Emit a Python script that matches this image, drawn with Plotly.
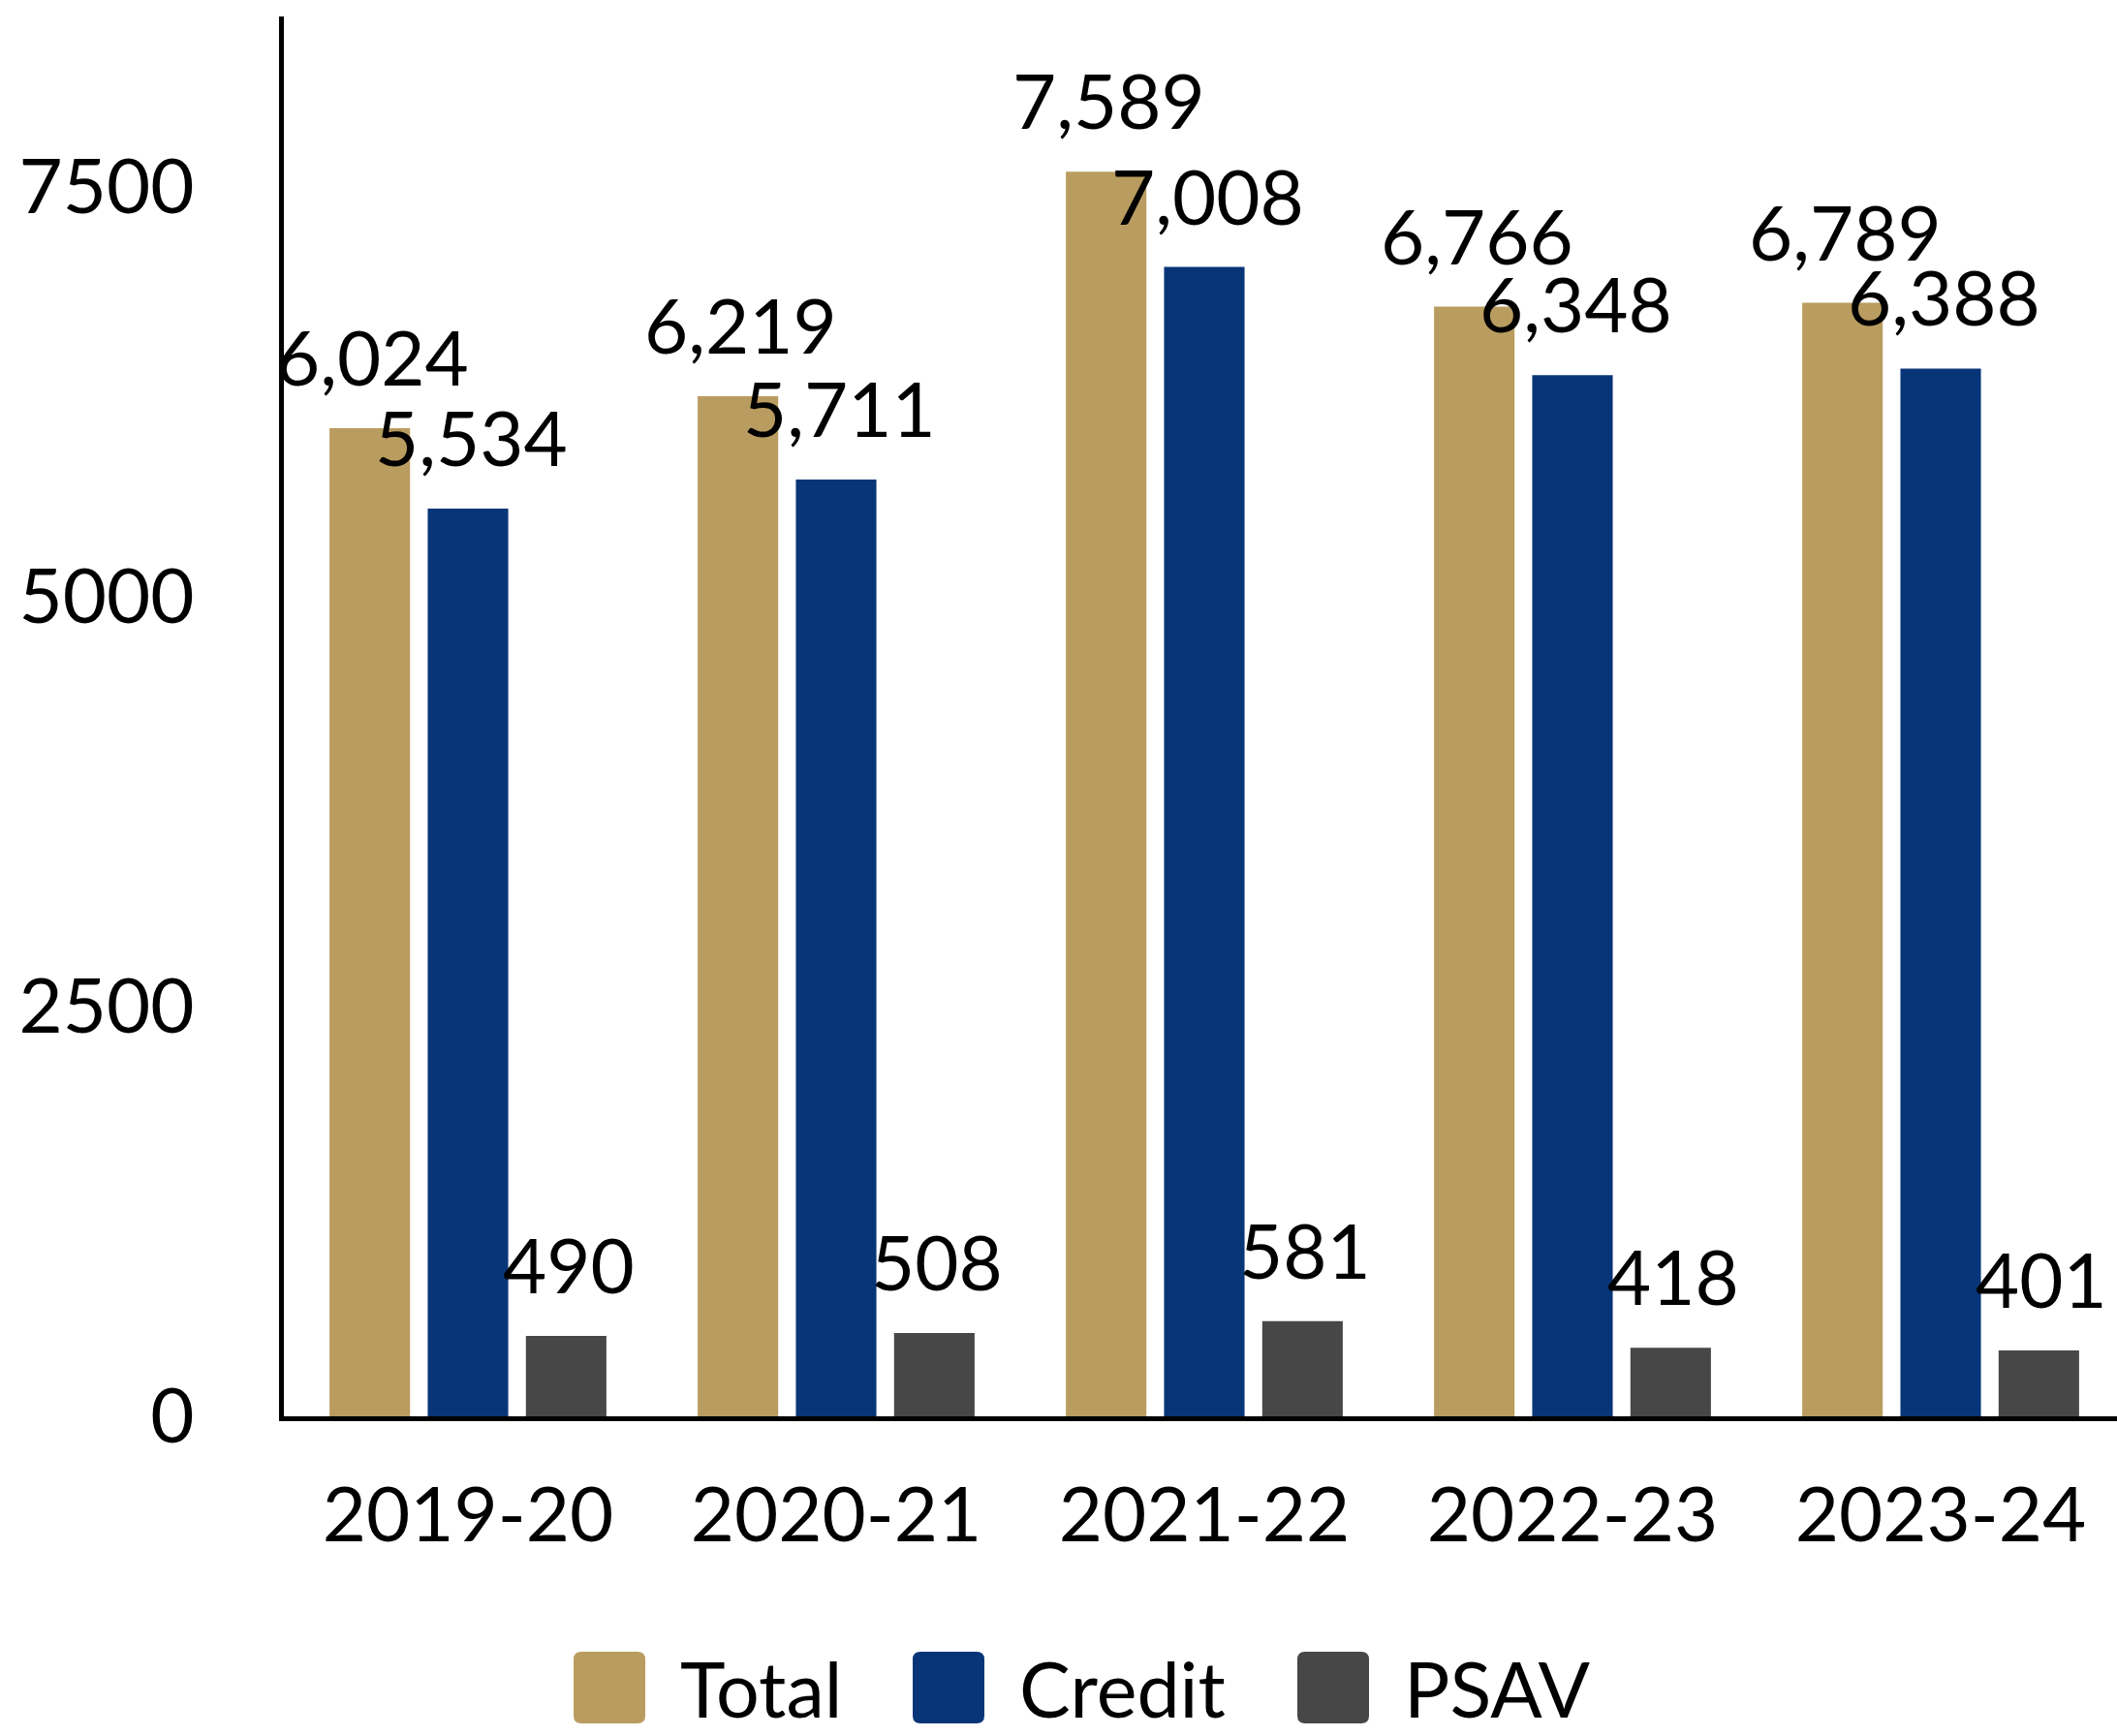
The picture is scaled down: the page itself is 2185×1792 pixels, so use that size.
import plotly.graph_objects as go

# Enrolment by academic year
years = ["2019-20", "2020-21", "2021-22", "2022-23", "2023-24"]
total = [6024, 6219, 7589, 6766, 6789]
credit = [5534, 5711, 7008, 6348, 6388]
psav = [490, 508, 581, 418, 401]

series_names = ["Total", "Credit", "PSAV"]
series_values = [total, credit, psav]
series_colors = ["#B99C5F", "#083578", "#474747"]

W, H = 2185, 1792
M_L, M_R, M_T, M_B = 293, 0, 17, 330
FONT = "Lato"
FS = 78
BARGAP, GROUPGAP = 0.2, 0.18
CAT_PX = 380                      # pixel width of one category slot
plot_w = W - M_L - M_R
plot_h = H - M_T - M_B
x_range = [-0.5, -0.5 + plot_w / CAT_PX]
slot_px = CAT_PX * (1 - BARGAP) / len(series_names)

fig = go.Figure()
annotations = []
for i, (name, vals, col) in enumerate(zip(series_names, series_values, series_colors)):
    fig.add_trace(go.Bar(
        x=years, y=vals, name=name,
        marker=dict(color=col, line=dict(width=0)),
        showlegend=False,
    ))
    # value labels above each bar
    for yr, v in zip(years, vals):
        annotations.append(dict(
            x=yr, y=v, xref="x", yref="y", text=f"{v:,}",
            xanchor="center", yanchor="bottom", showarrow=False,
            xshift=(i - 1) * slot_px + 3, yshift=25,
            font=dict(family=FONT, size=FS, color="black"),
        ))

# Legend drawn as large rounded swatches with labels below the plot
legend_x_px = [592, 942, 1339]   # swatch left edges (page px)
legend_y_px = 1742               # swatch / label vertical centre (page px)
sw, r = 74, 8


def rounded_rect(w, h, rad):
    x0, y0, x1, y1 = -w / 2, -h / 2, w / 2, h / 2
    return (f"M{x0+rad},{y0} L{x1-rad},{y0} Q{x1},{y0} {x1},{y0+rad} "
            f"L{x1},{y1-rad} Q{x1},{y1} {x1-rad},{y1} L{x0+rad},{y1} "
            f"Q{x0},{y1} {x0},{y1-rad} L{x0},{y0+rad} Q{x0},{y0} {x0+rad},{y0} Z")


shapes = []
for name, col, lx in zip(series_names, series_colors, legend_x_px):
    cx = (lx + sw / 2 - M_L) / plot_w
    cy = (H - M_B - legend_y_px) / plot_h
    shapes.append(dict(
        type="path", xref="paper", yref="paper",
        xsizemode="pixel", ysizemode="pixel", xanchor=cx, yanchor=cy,
        path=rounded_rect(sw, sw, r), fillcolor=col, line=dict(width=0),
    ))
    annotations.append(dict(
        text=name, xref="paper", yref="paper",
        x=(lx + sw + 34 - M_L) / plot_w, y=cy,
        xanchor="left", yanchor="middle", showarrow=False,
        font=dict(family=FONT, size=79, color="black"),
    ))

fig.update_layout(
    width=W, height=H,
    margin=dict(l=M_L, r=M_R, t=M_T, b=M_B),
    paper_bgcolor="white", plot_bgcolor="white",
    barmode="group", bargap=BARGAP, bargroupgap=GROUPGAP,
    font=dict(family=FONT, size=FS, color="black"),
    shapes=shapes, annotations=annotations,
    showlegend=False,
)
fig.update_xaxes(
    range=x_range,
    showline=True, linecolor="black", linewidth=5,
    showgrid=False, ticks="", ticklabelstandoff=30,
    tickfont=dict(family=FONT, size=FS, color="black"),
)
fig.update_yaxes(
    range=[0, 8535], tickvals=[0, 2500, 5000, 7500],
    showline=True, linecolor="black", linewidth=5,
    showgrid=False, zeroline=False, ticks="", ticklabelstandoff=72,
    tickfont=dict(family=FONT, size=FS, color="black"),
)

fig.write_html("out.html")
